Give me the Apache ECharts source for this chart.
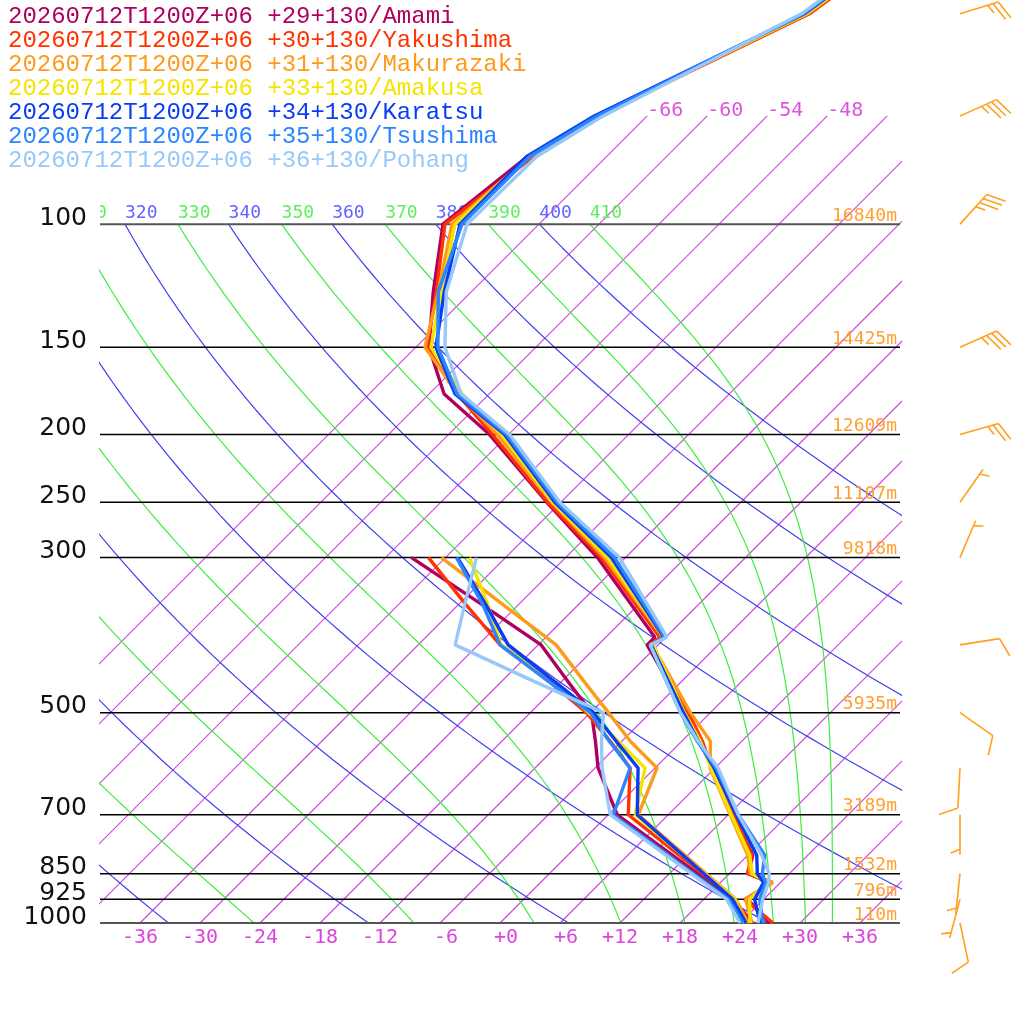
<!DOCTYPE html>
<html>
<head>
<meta charset="utf-8">
<title>Skew-T</title>
<script src="https://cdn.jsdelivr.net/npm/echarts@6/dist/echarts.min.js"></script>
<style>
html, body { margin: 0; padding: 0; background: #fff; }
#main { width: 1024px; height: 1024px; }
</style>
</head>
<body>
<div id="main"></div>
<script>
// pressure levels (hPa)
var levelsT = [1000, 925, 875, 850, 800, 700, 600, 550, 500, 400, 390, 300, 250, 200, 175, 150, 125, 100, 80, 70, 50, 30];
var levelsTd = [1000, 925, 700, 600, 550, 500, 450, 400, 350, 300];

var stations = [
  '20260712T1200Z+06 +29+130/Amami',
  '20260712T1200Z+06 +30+130/Yakushima',
  '20260712T1200Z+06 +31+130/Makurazaki',
  '20260712T1200Z+06 +33+130/Amakusa',
  '20260712T1200Z+06 +34+130/Karatsu',
  '20260712T1200Z+06 +35+130/Tsushima',
  '20260712T1200Z+06 +36+130/Pohang'
];
var colors = ['#b0005e', '#ff3300', '#ff9a1a', '#f5e400', '#0a3cf5', '#2a85ff', '#98c8fa'];

// temperature (C)
var tAmami      = [27.0, 22.4, 22.8, 19.9, 18.5, 12.5, 5.7, 1.9, -2.4, -13.1, -13.1, -26.8, -37.4, -49.9, -58.5, -64.7, -69.8, -75.6, -73.9, -71.0, -60.1, -54.5];
var tYakushima  = [27.3, 22.1, 23.2, 19.8, 18.4, 12.5, 5.7, 2.1, -2.2, -12.8, -12.6, -26.4, -37.3, -49.6, -57.2, -64.9, -69.5, -75.4, -73.3, -70.9, -60.0, -54.3];
var tMakurazaki = [25.2, 22.2, 23.2, 20.1, 18.0, 12.2, 5.5, 2.9, -2.0, -12.6, -12.3, -26.1, -36.9, -49.1, -57.1, -65.1, -69.3, -74.7, -73.7, -71.0, -60.2, -54.5];
var tAmakusa    = [25.0, 22.6, 22.6, 20.3, 18.2, 12.3, 5.6, 1.9, -2.6, -12.5, -12.2, -25.8, -36.8, -48.7, -56.7, -64.5, -69.0, -74.4, -73.7, -71.1, -60.3, -54.6];
var tKaratsu    = [26.0, 23.1, 22.3, 20.8, 18.9, 12.8, 5.9, 1.7, -2.7, -12.7, -12.2, -25.4, -36.6, -48.4, -57.4, -64.0, -68.7, -73.9, -74.0, -71.3, -60.5, -54.8];
var tTsushima   = [26.3, 23.6, 22.5, 21.3, 19.7, 13.0, 6.1, 1.6, -3.0, -12.8, -12.1, -25.1, -36.4, -48.2, -57.2, -63.8, -69.3, -73.7, -73.7, -71.0, -60.6, -54.9];
var tPohang     = [25.8, 23.9, 22.8, 22.0, 19.4, 13.0, 6.3, 1.7, -3.0, -12.8, -11.9, -24.6, -36.1, -47.9, -56.8, -63.1, -68.5, -73.2, -73.0, -70.4, -60.8, -55.0];

// dew point (C)
var tdAmami      = [25.3, 20.9, 0.9, -5.7, -8.6, -11.9, -17.5, -23.7, -33.7, -45.4];
var tdYakushima  = [25.0, 21.1, 2.0, -2.5, -7.1, -12.4, -19.4, -27.8, -35.3, -43.7];
var tdMakurazaki = [24.8, 21.2, 3.0, 0.2, -5.1, -10.2, -15.9, -22.2, -31.6, -42.4];
var tdAmakusa    = [24.5, 21.1, 2.7, -1.0, -6.3, -12.2, -18.8, -27.7, -33.1, -39.6];
var tdKaratsu    = [24.6, 20.9, 2.9, -1.7, -6.5, -11.7, -18.9, -27.0, -33.3, -40.8];
var tdTsushima   = [24.3, 20.5, 0.5, -2.5, -7.2, -12.0, -19.5, -27.8, -33.6, -40.9];
var tdPohang     = [24.0, 20.3, 0.2, -5.3, -8.0, -10.7, -21.0, -32.3, -35.4, -38.9];

// wind (direction deg, speed)
var windP   = [50, 70, 100, 150, 200, 250, 300, 400, 500, 600, 700, 850, 925, 1000];
var windDir = [73, 66, 42, 66, 74, 35, 23, 81, 125, 183, 180, 186, 195, 168];
var windSpd = [25, 35, 35, 35, 25, 5, 5, 10, 10, 10, 5, 5, 5, 10];

// isobars and heights
var pressureTicks = [100, 150, 200, 250, 300, 500, 700, 850, 925, 1000];
var heights = [16840, 14425, 12609, 11107, 9818, 5935, 3189, 1532, 796, 110];

// background lines
var xTicks = [-36, -30, -24, -18, -12, -6, 0, 6, 12, 18, 24, 30, 36];
var isotherms = [-66, -60, -54, -48, -42, -36, -30, -24, -18, -12, -6, 0, 6, 12, 18, 24, 30, 36];
var isothermLabels = [-66, -60, -54, -48];
var dryThetas = [240, 260, 280, 300, 320, 340, 360, 380, 400];
var moistThetas = [250, 270, 290, 310, 330, 350, 370, 390, 410];

var SKEW = 69.9;
function skewX(t, p) { return t + SKEW * Math.log10(1000 / p); }

function satThetaE(tk, p) {
  var tc = tk - 273.15;
  var es = 6.112 * Math.exp(17.67 * tc / (tc + 243.5));
  if (es > 0.5 * p) return 1e9;
  var r = 622 * es / (p - es);
  return tk * Math.pow(1000 / p, 0.2854 * (1 - 0.00028 * r)) *
    Math.exp((3.376 / tk - 0.00254) * r * (1 + 0.00081 * r));
}
function tempOnThetaE(te, p) {
  var lo = 150, hi = 330;
  for (var k = 0; k < 50; k++) {
    var mid = (lo + hi) / 2;
    if (satThetaE(mid, p) > te) hi = mid; else lo = mid;
  }
  return (lo + hi) / 2 - 273.15;
}

var sampleP = [];
for (var k = 0; k <= 60; k++) sampleP.push(1000 * Math.pow(0.1, k / 60));

var series = [];

isotherms.forEach(function (t) {
  series.push({
    type: 'line', silent: true, symbol: 'none', z: 1,
    lineStyle: { color: '#cc44dd', width: 1.1 },
    data: [[skewX(t, 1000), 1000], [skewX(t, 70), 70]]
  });
});

dryThetas.forEach(function (th) {
  series.push({
    type: 'line', silent: true, symbol: 'none', z: 1,
    lineStyle: { color: '#4040f0', width: 1.2 },
    data: sampleP.map(function (p) {
      return [skewX(th * Math.pow(p / 1000, 0.2857) - 273.15, p), p];
    })
  });
});

moistThetas.forEach(function (te) {
  series.push({
    type: 'line', silent: true, symbol: 'none', z: 1,
    lineStyle: { color: '#3cee3c', width: 1.2 },
    data: sampleP.map(function (p) {
      return [skewX(tempOnThetaE(te, p), p), p];
    })
  });
});

pressureTicks.forEach(function (p) {
  var edge = (p === 100 || p === 1000);
  series.push({
    type: 'line', silent: true, symbol: 'none', z: 2,
    lineStyle: { color: edge ? '#555' : '#000', width: edge ? 2 : 1.5 },
    data: [[-40, p], [40, p]]
  });
});

var tempData = [tAmami, tYakushima, tMakurazaki, tAmakusa, tKaratsu, tTsushima, tPohang];
var dewData = [tdAmami, tdYakushima, tdMakurazaki, tdAmakusa, tdKaratsu, tdTsushima, tdPohang];

stations.forEach(function (name, i) {
  series.push({
    name: name, type: 'line', symbol: 'none', z: 5,
    lineStyle: { color: colors[i], width: 3.4 },
    itemStyle: { color: colors[i] },
    data: levelsT.map(function (p, j) { return [skewX(tempData[i][j], p), p]; })
  });
  series.push({
    name: name, type: 'line', symbol: 'none', z: 5,
    lineStyle: { color: colors[i], width: 3.4 },
    itemStyle: { color: colors[i] },
    data: levelsTd.map(function (p, j) { return [skewX(dewData[i][j], p), p]; })
  });
});

// text labels
var mono = '"DejaVu Sans Mono", monospace';
var labels = [];
pressureTicks.forEach(function (p, i) {
  labels.push({ x: -40, p: p, text: String(p), dx: -13, dy: -6, align: 'right', color: '#111', font: '25px "DejaVu Sans"' });
  labels.push({ x: 40, p: p, text: heights[i] + 'm', dx: -3, dy: -8, align: 'right', color: '#ffa030', font: '18px ' + mono });
});
isothermLabels.forEach(function (t) {
  labels.push({ x: skewX(t, 70), p: 70, text: String(t), dx: 0, dy: -5, align: 'left', color: '#dd55dd', font: '20px ' + mono });
});

var thetaLabels = [];
dryThetas.forEach(function (th) {
  thetaLabels.push({ x: skewX(th * Math.pow(0.1, 0.2857) - 273.15, 100), p: 100, text: String(th), color: '#6262ff' });
});
moistThetas.forEach(function (te) {
  thetaLabels.push({ x: skewX(tempOnThetaE(te, 100), 100), p: 100, text: String(te), color: '#5cf05c' });
});

function textItem(d, api) {
  var pt = api.coord([d.x, d.p]);
  return {
    type: 'text',
    x: pt[0] + d.dx, y: pt[1] + d.dy,
    style: { text: d.text, fill: d.color, font: d.font, align: d.align, verticalAlign: 'middle' }
  };
}

series.push({
  type: 'custom', silent: true, z: 6, clip: false,
  data: labels.map(function (d) { return [d.x, d.p]; }),
  renderItem: function (params, api) { return textItem(labels[params.dataIndex], api); }
});
series.push({
  type: 'custom', silent: true, z: 3, clip: true,
  data: thetaLabels.map(function (d) { return [d.x, d.p]; }),
  renderItem: function (params, api) {
    var d = thetaLabels[params.dataIndex];
    return textItem({ x: d.x, p: d.p, text: d.text, color: d.color, dx: 0, dy: -11, align: 'left', font: '18px ' + mono }, api);
  }
});

// wind barbs
series.push({
  type: 'custom', silent: true, z: 6, clip: false,
  data: windP.map(function (p, i) { return [40, p, windDir[i], windSpd[i]]; }),
  renderItem: function (params, api) {
    var base = api.coord([api.value(0), api.value(1)]);
    var bx = base[0] + 60, by = base[1];
    var rad = api.value(2) * Math.PI / 180;
    var spd = api.value(3);
    var ux = Math.sin(rad), uy = -Math.cos(rad);
    var L = 40, S = 5.5;
    var tx = bx + ux * L, ty = by + uy * L;
    var a = 68 * Math.PI / 180;
    var vx = ux * Math.cos(a) - uy * Math.sin(a);
    var vy = ux * Math.sin(a) + uy * Math.cos(a);
    var st = { stroke: '#ffa020', lineWidth: 1.6 };
    var kids = [{ type: 'line', shape: { x1: bx, y1: by, x2: tx, y2: ty }, style: st }];
    var full = Math.floor(spd / 10);
    var half = (spd % 10) >= 5;
    var pos = 0;
    for (var f = 0; f < full; f++) {
      var sx = tx - ux * pos * S, sy = ty - uy * pos * S;
      kids.push({ type: 'line', shape: { x1: sx, y1: sy, x2: sx + vx * 20, y2: sy + vy * 20 }, style: st });
      pos++;
    }
    if (half) {
      if (full === 0) pos = 1;
      var hx = tx - ux * pos * S, hy = ty - uy * pos * S;
      kids.push({ type: 'line', shape: { x1: hx, y1: hy, x2: hx + vx * 10, y2: hy + vy * 10 }, style: st });
    }
    return { type: 'group', children: kids };
  }
});

var myChart = echarts.init(document.getElementById('main'));
var option = {
  animation: false,
  backgroundColor: '#fff',
  legend: {
    data: stations.map(function (s, i) { return { name: s, textStyle: { color: colors[i] } }; }),
    orient: 'vertical', left: 3, top: 5, padding: 0,
    itemGap: 0, itemWidth: 0, itemHeight: 0, icon: 'none',
    selectedMode: false,
    textStyle: { fontFamily: 'Liberation Mono', fontSize: 24, lineHeight: 24 }
  },
  grid: { left: 100, right: 124, top: 0, bottom: 101 },
  xAxis: {
    type: 'value', min: -40, max: 40,
    axisLine: { show: false }, axisTick: { show: false }, splitLine: { show: false },
    axisLabel: {
      customValues: xTicks,
      margin: 5,
      color: '#dd44dd',
      fontFamily: 'DejaVu Sans Mono',
      fontSize: 20,
      formatter: function (v) {
        var s = (v >= 0 ? '+' : '-') + Math.abs(v);
        return s.length < 3 ? ' ' + s : s;
      }
    }
  },
  yAxis: {
    type: 'log', logBase: 10, inverse: true, min: 47.78, max: 1000,
    axisLine: { show: false }, axisTick: { show: false }, splitLine: { show: false },
    axisLabel: { show: false }
  },
  series: series
};
myChart.setOption(option);
</script>
</body>
</html>
